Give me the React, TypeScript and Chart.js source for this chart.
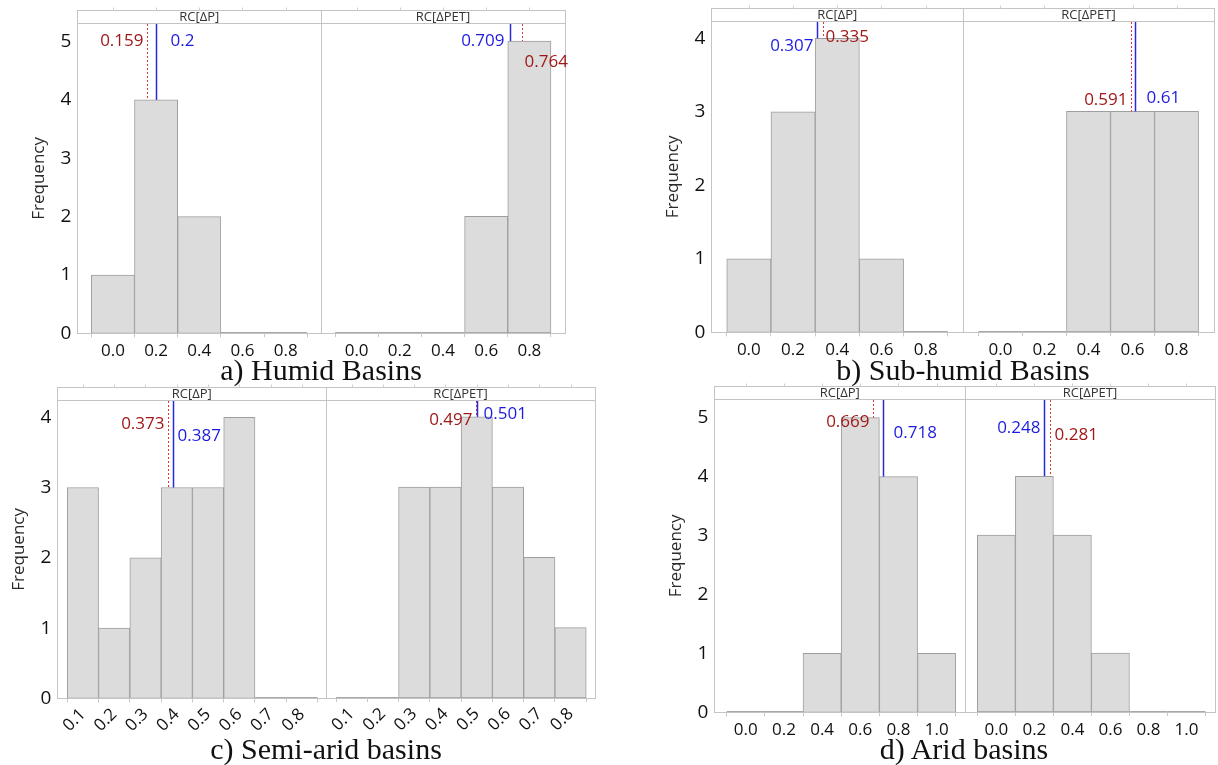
import React, { useEffect, useRef } from "react";
import { Chart, registerables } from "chart.js";

Chart.register(...registerables);

// ---------------- Data ----------------
const facetNames = ["RC[ΔP]", "RC[ΔPET]"];

// a) Humid basins
const humidBins = [0.0, 0.2, 0.4, 0.6, 0.8];
const humidP = [1, 4, 2, 0, 0];
const humidPET = [0, 0, 0, 2, 5];
const humidDotted = [0.159, 0.764]; // red dotted reference values [RC[ΔP], RC[ΔPET]]
const humidSolid = [0.2, 0.709]; // blue solid reference values
const humidTicks = [0.0, 0.2, 0.4, 0.6, 0.8];
const humidYTicks = [0, 1, 2, 3, 4, 5];

// b) Sub-humid basins
const subHumidBins = [0.0, 0.2, 0.4, 0.6, 0.8];
const subHumidP = [1, 3, 4, 1, 0];
const subHumidPET = [0, 0, 3, 3, 3];
const subHumidDotted = [0.335, 0.591];
const subHumidSolid = [0.307, 0.61];
const subHumidTicks = [0.0, 0.2, 0.4, 0.6, 0.8];
const subHumidYTicks = [0, 1, 2, 3, 4];

// c) Semi-arid basins
const semiAridBins = [0.1, 0.2, 0.3, 0.4, 0.5, 0.6, 0.7, 0.8];
const semiAridP = [3, 1, 2, 3, 3, 4, 0, 0];
const semiAridPET = [0, 0, 3, 3, 4, 3, 2, 1];
const semiAridDotted = [0.373, 0.497];
const semiAridSolid = [0.387, 0.501];
const semiAridTicks = [0.1, 0.2, 0.3, 0.4, 0.5, 0.6, 0.7, 0.8];
const semiAridYTicks = [0, 1, 2, 3, 4];

// d) Arid basins
const aridBins = [0.0, 0.2, 0.4, 0.6, 0.8, 1.0];
const aridP = [0, 0, 1, 5, 4, 1];
const aridPET = [3, 4, 3, 1, 0, 0];
const aridDotted = [0.669, 0.281];
const aridSolid = [0.718, 0.248];
const aridTicks = [0.0, 0.2, 0.4, 0.6, 0.8, 1.0];
const aridYTicks = [0, 1, 2, 3, 4, 5];

// ---------------- Styles / layout ----------------
const STRIP = 13;
const SANS = "'Open Sans', 'Noto Sans', sans-serif";
const BAR_FILL = "#dcdcdc";
const BAR_EDGE = "#9e9e9e";
const FRAME = "#c4c4c4";
const RED_TEXT = "#a01818";
const BLUE_TEXT = "#1c1ce0";
const RED_LINE = "#e8322f";
const BLUE_LINE = "#2828d8";

type LabelPos = { side: "left" | "right"; y: number; dx: number };

type Panel = {
  caption: string;
  captionX: number;
  captionY: number;
  bins: number[];
  series: number[][];
  dotted: number[];
  solid: number[];
  ticks: number[];
  yTicks: number[];
  top: number;
  bottom: number;
  xs: number[]; // left, divider, right (page px)
  xRange: [number, number];
  yMax: number;
  rotate: number;
  // [facet][0 = dotted label, 1 = solid label]
  labels: LabelPos[][];
};

const panels: Panel[] = [
  {
    caption: "a) Humid Basins",
    captionX: 321,
    captionY: 370,
    bins: humidBins,
    series: [humidP, humidPET],
    dotted: humidDotted,
    solid: humidSolid,
    ticks: humidTicks,
    yTicks: humidYTicks,
    top: 23,
    bottom: 333,
    xs: [77, 321, 565],
    xRange: [-0.165, 0.965],
    yMax: 5.31,
    rotate: 0,
    labels: [
      [{ side: "left", y: 5.0, dx: 4 }, { side: "right", y: 5.0, dx: 14 }],
      [{ side: "right", y: 4.64, dx: 2 }, { side: "left", y: 5.0, dx: 6 }],
    ],
  },
  {
    caption: "b) Sub-humid Basins",
    captionX: 963,
    captionY: 370,
    bins: subHumidBins,
    series: [subHumidP, subHumidPET],
    dotted: subHumidDotted,
    solid: subHumidSolid,
    ticks: subHumidTicks,
    yTicks: subHumidYTicks,
    top: 21,
    bottom: 332,
    xs: [711, 963, 1214],
    xRange: [-0.17, 0.97],
    yMax: 4.23,
    rotate: 0,
    labels: [
      [{ side: "right", y: 4.01, dx: 2 }, { side: "left", y: 3.9, dx: 4 }],
      [{ side: "left", y: 3.16, dx: 4 }, { side: "right", y: 3.18, dx: 11 }],
    ],
  },
  {
    caption: "c) Semi-arid basins",
    captionX: 326,
    captionY: 749,
    bins: semiAridBins,
    series: [semiAridP, semiAridPET],
    dotted: semiAridDotted,
    solid: semiAridSolid,
    ticks: semiAridTicks,
    yTicks: semiAridYTicks,
    top: 400,
    bottom: 698,
    xs: [57, 326, 595],
    xRange: [0.018, 0.878],
    yMax: 4.24,
    rotate: 45,
    labels: [
      [{ side: "left", y: 3.9, dx: 4 }, { side: "right", y: 3.73, dx: 4 }],
      [{ side: "left", y: 3.96, dx: 4 }, { side: "right", y: 4.04, dx: 6 }],
    ],
  },
  {
    caption: "d) Arid basins",
    captionX: 964,
    captionY: 749,
    bins: aridBins,
    series: [aridP, aridPET],
    dotted: aridDotted,
    solid: aridSolid,
    ticks: aridTicks,
    yTicks: aridYTicks,
    top: 399,
    bottom: 712,
    xs: [714, 965, 1215],
    xRange: [-0.165, 1.15],
    yMax: 5.31,
    rotate: 0,
    labels: [
      [{ side: "left", y: 4.92, dx: 4 }, { side: "right", y: 4.73, dx: 10 }],
      [{ side: "right", y: 4.69, dx: 4 }, { side: "left", y: 4.81, dx: 4 }],
    ],
  },
];

function makeConfig(p: Panel, fi: number): any {
  const values = p.series[fi];
  const data = p.bins.map((x, i) => ({ x, y: values[i] }));
  const binW = p.bins[1] - p.bins[0];
  const heightAt = (v: number) => {
    const i = Math.round((v - p.bins[0]) / binW);
    return values[i] ?? 0;
  };

  const decor = {
    id: "facetDecor" + fi,
    afterDatasetsDraw(chart: any) {
      const { ctx, chartArea: ca, scales } = chart;
      const xs = scales.x;
      const ys = scales.y;
      ctx.save();
      // zero-height bins outline along the baseline
      ctx.strokeStyle = "#a8a8a8";
      ctx.lineWidth = 1;
      const B0 = Math.round(ca.bottom) - 0.5;
      p.bins.forEach((c, i) => {
        if (values[i] === 0) {
          ctx.beginPath();
          ctx.moveTo(xs.getPixelForValue(c - binW / 2), B0);
          ctx.lineTo(xs.getPixelForValue(c + binW / 2), B0);
          ctx.stroke();
        }
      });
      // frame + strip
      const L = Math.round(ca.left) + 0.5;
      const R = Math.round(ca.right) + 0.5;
      const T = Math.round(ca.top) - STRIP + 0.5;
      const S = Math.round(ca.top) + 0.5;
      const B = Math.round(ca.bottom) + 0.5;
      ctx.strokeStyle = FRAME;
      ctx.strokeRect(L, T, R - L, B - T);
      ctx.beginPath();
      ctx.moveTo(L, S);
      ctx.lineTo(R, S);
      ctx.stroke();
      // small ticks on top of strip
      ctx.strokeStyle = "#d0d0d0";
      for (const t of p.ticks) {
        const px = Math.round(xs.getPixelForValue(t)) + 0.5;
        ctx.beginPath();
        ctx.moveTo(px, T - 3);
        ctx.lineTo(px, T);
        ctx.stroke();
      }
      ctx.fillStyle = "#333";
      ctx.font = `13px ${SANS}`;
      ctx.textAlign = "center";
      ctx.textBaseline = "middle";
      ctx.fillText(facetNames[fi], (ca.left + ca.right) / 2, ca.top - STRIP / 2 + 0.5);

      // reference lines
      const refs = [
        { v: p.dotted[fi], dash: [2, 2], line: RED_LINE, text: RED_TEXT, w: 1, lab: p.labels[fi][0] },
        { v: p.solid[fi], dash: [], line: BLUE_LINE, text: BLUE_TEXT, w: 1.5, lab: p.labels[fi][1] },
      ];
      for (const r of refs) {
        const raw = xs.getPixelForValue(r.v);
        const px = Math.round(raw) + 0.5;
        const yEnd = ys.getPixelForValue(heightAt(r.v));
        ctx.setLineDash(r.dash);
        ctx.strokeStyle = r.line;
        ctx.lineWidth = r.w;
        ctx.beginPath();
        ctx.moveTo(px, Math.round(ca.top) + 1);
        ctx.lineTo(px, yEnd);
        ctx.stroke();
        ctx.setLineDash([]);
        ctx.fillStyle = r.text;
        ctx.font = `17px ${SANS}`;
        ctx.textBaseline = "middle";
        const ly = ys.getPixelForValue(r.lab.y);
        if (r.lab.side === "left") {
          ctx.textAlign = "right";
          ctx.fillText(String(r.v), px - r.lab.dx, ly);
        } else {
          ctx.textAlign = "left";
          ctx.fillText(String(r.v), px + r.lab.dx, ly);
        }
      }
      ctx.restore();
    },
  };

  return {
    type: "bar",
    data: {
      datasets: [
        {
          data,
          backgroundColor: BAR_FILL,
          borderColor: BAR_EDGE,
          borderWidth: 1,
          borderSkipped: false,
          barPercentage: 1,
          categoryPercentage: 1,
        },
      ],
    },
    options: {
      animation: false,
      responsive: false,
      maintainAspectRatio: false,
      layout: { padding: { top: STRIP + 4, left: 0, right: 14, bottom: 0 } },
      plugins: { legend: { display: false }, tooltip: { enabled: false } },
      scales: {
        x: {
          type: "linear",
          min: p.xRange[0],
          max: p.xRange[1],
          offset: false,
          afterBuildTicks: (s: any) => {
            s.ticks = p.ticks.map((v) => ({ value: v }));
          },
          ticks: {
            autoSkip: false,
            maxRotation: p.rotate,
            minRotation: p.rotate,
            padding: p.rotate ? 2 : 4,
            color: "#111",
            font: { family: SANS, size: 17 },
            callback: (v: any) => Number(v).toFixed(1),
          },
          grid: {
            display: true,
            drawOnChartArea: false,
            drawTicks: true,
            tickLength: 4,
            color: "#c8c8c8",
          },
          border: { display: false },
        },
        y: {
          display: fi === 0,
          min: 0,
          max: p.yMax,
          afterBuildTicks: (s: any) => {
            s.ticks = p.yTicks.map((v) => ({ value: v }));
          },
          ticks: {
            padding: 6,
            color: "#111",
            font: { family: SANS, size: 19 },
            callback: (v: any) => String(v),
          },
          grid: { display: false, drawTicks: false },
          border: { display: false },
          title: {
            display: true,
            text: "Frequency",
            color: "#2a2a2a",
            font: { family: SANS, size: 17 },
            padding: { top: 0, bottom: 5 },
          },
        },
      },
    },
    plugins: [decor],
  };
}

function Facet({ p, fi }: { p: Panel; fi: number }) {
  const ref = useRef<HTMLCanvasElement>(null);
  useEffect(() => {
    const canvas = ref.current!;
    const chart = new Chart(canvas, makeConfig(p, fi));
    const ca = chart.chartArea;
    const mL = ca.left;
    const mT = ca.top;
    const mR = chart.width - ca.right;
    const mB = chart.height - ca.bottom;
    const left = p.xs[fi];
    const right = p.xs[fi + 1];
    const W = right - left + mL + mR;
    const H = p.bottom - p.top + mT + mB;
    canvas.style.left = left - mL + "px";
    canvas.style.top = p.top - mT + "px";
    chart.resize(W, H);
    return () => chart.destroy();
  }, []);
  return (
    <canvas
      ref={ref}
      width={400}
      height={420}
      style={{ position: "absolute", left: 0, top: 0 }}
    />
  );
}

export default function App() {
  return (
    <div
      style={{
        position: "absolute",
        left: 0,
        top: 0,
        width: 1218,
        height: 765,
        background: "#fff",
        overflow: "hidden",
      }}
    >
      {panels.map((p, pi) => (
        <React.Fragment key={pi}>
          <Facet p={p} fi={0} />
          <Facet p={p} fi={1} />
          <div
            style={{
              position: "absolute",
              left: p.captionX,
              top: p.captionY,
              transform: "translate(-50%, -50%)",
              fontFamily: "'Liberation Serif', 'Times New Roman', serif",
              fontSize: 30,
              color: "#111",
              whiteSpace: "nowrap",
              lineHeight: 1,
            }}
          >
            {p.caption}
          </div>
        </React.Fragment>
      ))}
    </div>
  );
}
